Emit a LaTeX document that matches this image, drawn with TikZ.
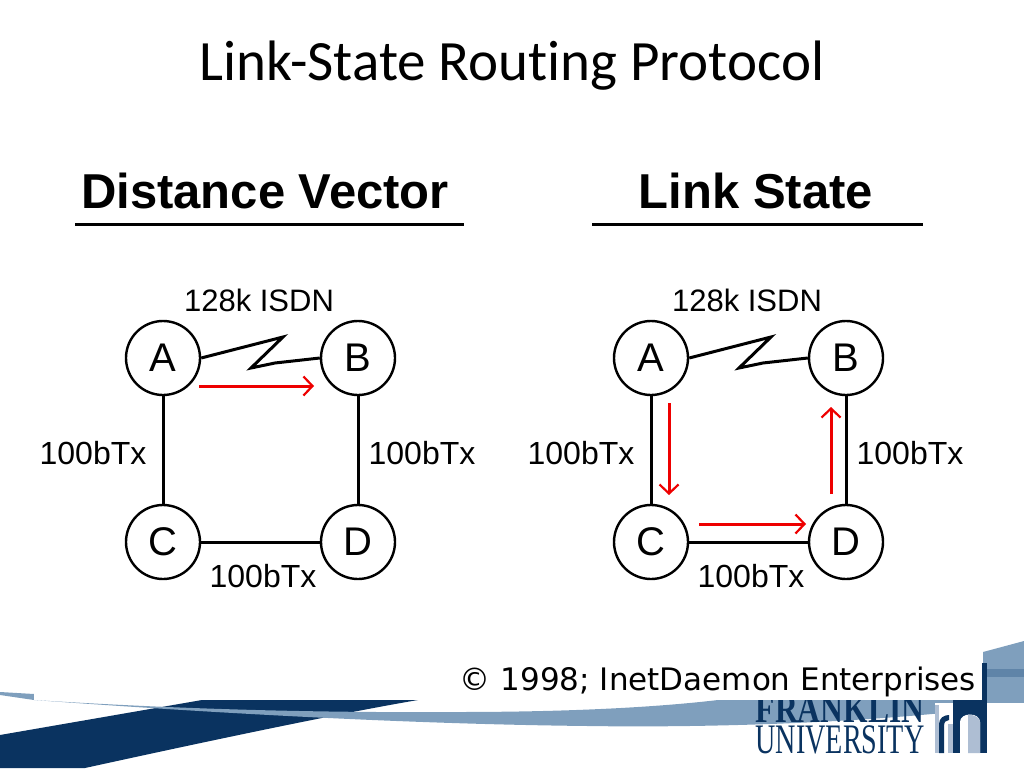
\documentclass[tikz,border=0pt]{standalone}
\usepackage{fontspec}
\setmainfont{Liberation Sans}
\newfontfamily\titlefont[Ligatures=NoCommon]{Carlito}
\newfontfamily\logofont{Liberation Serif}
\newfontfamily\notefont{DejaVu Sans}
\usetikzlibrary{arrows.meta}
\definecolor{bandblue}{HTML}{7F9FBD}
\definecolor{navyblue}{HTML}{0A3360}
\definecolor{stripeblue}{HTML}{5F84A8}
\definecolor{paleblue}{HTML}{AEBED3}
\definecolor{linkred}{HTML}{EE0000}
\tikzset{
  routerdecorate/.style={shape=circle,draw,line width=2.4pt,minimum size=74pt,inner sep=0pt,font=\fontsize{40}{40}\selectfont},
  linedecorate/.style={line width=3pt},
  arrowdecorate/.style={draw=linkred,line width=3pt,-{Straight Barb[length=9pt,width=19pt,line width=2.2pt]}},
  linklabel/.style={inner sep=0pt,font=\fontsize{32}{32}\selectfont},
  headlabel/.style={inner sep=0pt,anchor=base,font=\fontsize{49}{49}\selectfont\bfseries}
}
\begin{document}
\begin{tikzpicture}[x=1pt,y=-1pt]
\useasboundingbox (0,0) rectangle (1024,768);
%% background swoosh
\fill[navyblue] (0,735) -- (202,700) -- (418,700) .. controls (330,715) and (190,745) .. (85,768) -- (0,768) -- cycle;
\fill[bandblue] (0,692) -- (34,694) -- (34,700) .. controls (160,708) and (300,713) .. (457,712) .. controls (560,712) and (650,708) .. (718,700) -- (983,700) -- (983,652) -- (1024,641) -- (1024,703) .. controls (900,722) and (720,728) .. (588,726) .. controls (400,724) and (200,712) .. (34,700) -- (0,695) -- cycle;
\fill[stripeblue] (983,669) -- (1024,669) -- (1024,677) -- (983,677) -- cycle;
%% logo
\node (franklin) at (840,722) [anchor=base,inner sep=0pt,text=navyblue] {\logofont\bfseries\fontsize{40}{40}\selectfont\scalebox{0.79}[1]{FRANKLIN}};
\node (university) at (840,753) [anchor=base,inner sep=0pt,text=navyblue] {\logofont\fontsize{42}{42}\selectfont\scalebox{0.67}[1]{UNIVERSITY}};
\fill[white] (935,703) rectangle (1024,768);
\fill[paleblue] (935,705) rectangle (939,753);
\fill[navyblue] (939,753) -- (939,724) .. controls (939,718) and (944,715) .. (949,715) -- (949,720) .. controls (946,720) and (944,722) .. (944,726) -- (944,753) -- cycle;
\fill[paleblue] (948,724) rectangle (953,753);
\fill[navyblue] (953,700) rectangle (987,753);
\fill[white] (960,753) -- (960,722) .. controls (960,712) and (980,712) .. (980,722) -- (980,753) -- cycle;
\fill[paleblue] (968,753) -- (968,714.5) .. controls (974,715) and (980,717) .. (980,722) -- (980,753) -- cycle;
%% picture area
\fill[white] (34,120) rectangle (982,700);
\fill[navyblue] (982,663) rectangle (987,700);
%% title
\node (title) at (512,80) [anchor=base,inner sep=0pt,font=\titlefont\fontsize{57}{57}\selectfont] {Link-State Routing Protocol};
%% headings
\node (dvhead) at (265,208) [headlabel] {Distance Vector};
\node (lshead) at (756,208) [headlabel] {Link State};
\coordinate (dvleft) at (75,224);
\coordinate (dvright) at (464,224);
\coordinate (lsleft) at (592,224);
\coordinate (lsright) at (923,224);
\draw[linedecorate] (dvleft) -- (dvright);
\draw[linedecorate] (lsleft) -- (lsright);
%% routers and links
\foreach \pre/\ox in {l/0, r/488} {
  \foreach \nodename/\x/\y in {A/163/358, B/358/358, C/163/542, D/358/542} {
    \node (\pre\nodename) at (\x+\ox,\y) [routerdecorate] {\nodename};
  }
  \coordinate (\pre z1) at (283+\ox,337);
  \coordinate (\pre z2) at (251+\ox,368);
  \coordinate (\pre z3) at (275+\ox,363);
  \draw[linedecorate,line join=miter] (\pre A.east) -- (\pre z1) -- (\pre z2) -- (\pre z3) -- (\pre B.west);
  \draw[linedecorate] (\pre A) -- (\pre C);
  \draw[linedecorate] (\pre B) -- (\pre D);
  \draw[linedecorate] (\pre C) -- (\pre D);
  \node (\pre isdn) at (259+\ox,300) [linklabel,font=\fontsize{31}{31}\selectfont] {128k ISDN};
  \node (\pre txa) at (93+\ox,453) [linklabel] {100bTx};
  \node (\pre txb) at (422+\ox,453) [linklabel] {100bTx};
  \node (\pre txc) at (263+\ox,576) [linklabel] {100bTx};
}
%% red arrows
\coordinate (s1) at (199,386);
\coordinate (e1) at (314,386);
\coordinate (s2) at (669,403);
\coordinate (e2) at (669,495);
\coordinate (s3) at (699,524);
\coordinate (e3) at (806,524);
\coordinate (s4) at (831,494);
\coordinate (e4) at (831,407);
\path
\foreach \startnode/\endnode in {s1/e1, s2/e2, s3/e3, s4/e4} {
  (\startnode) edge[arrowdecorate] (\endnode)
};
%% copyright
\node (copyright) at (718,682) [inner sep=0pt,font=\notefont\fontsize{31}{31}\selectfont] {© 1998; InetDaemon Enterprises};
\end{tikzpicture}
\end{document}
